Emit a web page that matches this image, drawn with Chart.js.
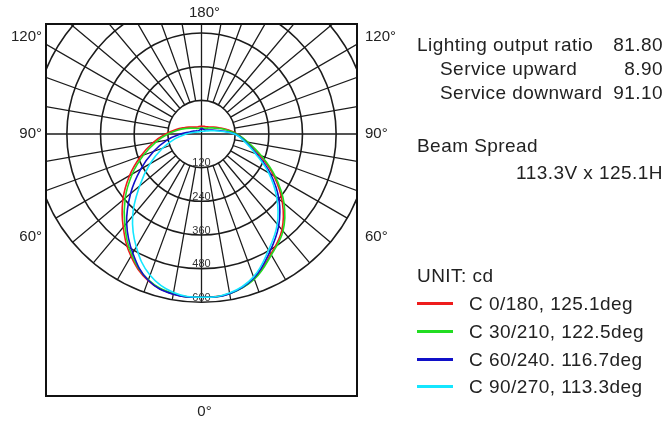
<!DOCTYPE html>
<html>
<head>
<meta charset="utf-8">
<script src="https://cdn.jsdelivr.net/npm/chart.js@4.4.1/dist/chart.umd.min.js"></script>
<style>
    html, body { margin: 0; padding: 0; background: #fff; }
    #wrap { position: relative; width: 667px; height: 421px; overflow: hidden; font-family: "Liberation Sans", Arial, sans-serif; color: #222; }
    #chartBox { position: absolute; left: 0; top: 0; width: 667px; height: 421px; }
    .txt { position: absolute; font-size: 19px; letter-spacing: 0.45px; line-height: 24px; white-space: nowrap; }
    .row { position: absolute; display: flex; justify-content: space-between; font-size: 19px; letter-spacing: 0.45px; line-height: 24px; white-space: nowrap; }
    .key { position: absolute; left: 417px; width: 36px; height: 3px; }
</style>
</head>
<body>
<div id="wrap">
    <div id="chartBox"><canvas id="photometricChart"></canvas></div>

    <div class="row" style="left:417px; width:246px; top:33px;"><span>Lighting output ratio</span><span>81.80</span></div>
    <div class="row" style="left:440px; width:223px; top:57px;"><span>Service upward</span><span>8.90</span></div>
    <div class="row" style="left:440px; width:223px; top:81px;"><span>Service downward</span><span>91.10</span></div>

    <div class="txt" style="left:417px; top:134px;">Beam Spread</div>
    <div class="txt" style="right:4px; top:161px;">113.3V x 125.1H</div>

    <div class="txt" style="left:417px; top:264px;">UNIT: cd</div>
    <div id="legend"></div>
</div>

<script>
// vertical angles (gamma), 0 = straight down
const gammaAngles = [0, 10, 20, 30, 40, 50, 60, 70, 80, 90, 100, 110, 120, 130, 140, 150, 160, 170, 180];

// luminous intensity in cd
const c0   = [582, 577, 549, 494, 446, 376, 298, 221, 165, 127, 92, 66, 50, 39, 33, 30, 29, 28, 28];
const c180 = [582, 579, 556, 503, 434, 366, 296, 230, 175, 128, 92, 66, 49, 38, 32, 29, 28, 28, 28];
const c30  = [582, 578, 551, 498, 452, 384, 304, 227, 168, 126, 88, 60, 44, 33, 27, 24, 22, 22, 22];
const c210 = [582, 578, 553, 497, 425, 355, 285, 220, 165, 120, 84, 58, 42, 32, 26, 23, 22, 22, 22];
const c60  = [582, 578, 546, 486, 428, 360, 284, 210, 160, 120, 68, 40, 28, 22, 19, 18, 18, 19, 20];
const c240 = [582, 580, 555, 490, 415, 330, 250, 182, 125, 75, 42, 30, 22, 17, 15, 15, 16, 18, 20];
const c90  = [582, 576, 542, 478, 420, 350, 276, 205, 156, 118, 62, 34, 22, 16, 13, 11, 10, 10, 10];
const c270 = [582, 574, 536, 465, 382, 288, 212, 148, 95, 55, 32, 20, 15, 12, 11, 10, 10, 10, 10];

const planeLabels = ['C 0/180, 125.1deg', 'C 30/210, 122.5deg', 'C 60/240. 116.7deg', 'C 90/270, 113.3deg'];
const planeColors = ['#ee1c1c', '#22dd22', '#1010c8', '#14e6ff'];

const ringValues = [120, 240, 360, 480, 600];

const angleLabelsLeft = ['120°', '90°', '60°'];
const angleLabelsRight = ['120°', '90°', '60°'];

function toPoints(rightSide, leftSide) {
    const points = [];
    // right half from the top down, then left half back up
    for (let i = gammaAngles.length - 1; i >= 0; i--) {
        const a = gammaAngles[i] * Math.PI / 180;
        points.push({ x: rightSide[i] * Math.sin(a), y: -rightSide[i] * Math.cos(a) });
    }
    for (let i = 1; i < gammaAngles.length; i++) {
        const a = gammaAngles[i] * Math.PI / 180;
        points.push({ x: -leftSide[i] * Math.sin(a), y: -leftSide[i] * Math.cos(a) });
    }
    return points;
}

const polarGrid = {
    id: 'polarGrid',
    beforeDatasetsDraw(chart) {
        const { ctx, chartArea, scales: { x, y } } = chart;
        const cx = x.getPixelForValue(0);
        const cy = y.getPixelForValue(0);
        const rad = v => x.getPixelForValue(v) - cx;
        const outer = rad(ringValues[ringValues.length - 1]);
        const inner = rad(ringValues[0]);

        ctx.save();
        ctx.beginPath();
        ctx.rect(chartArea.left, chartArea.top, chartArea.right - chartArea.left, chartArea.bottom - chartArea.top);
        ctx.clip();

        ctx.strokeStyle = '#1c1c1c';
        ctx.lineWidth = 1.6;
        ringValues.forEach(v => {
            ctx.beginPath();
            ctx.arc(cx, cy, rad(v), 0, Math.PI * 2);
            ctx.stroke();
        });

        ctx.lineWidth = 1.3;
        ctx.beginPath();
        for (let g = 10; g < 180; g += 10) {
            if (g === 90) continue;
            const a = g * Math.PI / 180;
            const r1 = g < 90 ? outer : 1000;
            [1, -1].forEach(side => {
                const dx = side * Math.sin(a);
                const dy = Math.cos(a);
                ctx.moveTo(cx + dx * inner, cy + dy * inner);
                ctx.lineTo(cx + dx * r1, cy + dy * r1);
            });
        }
        ctx.moveTo(chartArea.left, cy);
        ctx.lineTo(chartArea.right, cy);
        ctx.moveTo(cx, chartArea.top);
        ctx.lineTo(cx, cy + outer);
        ctx.stroke();

        ctx.fillStyle = '#333';
        ctx.font = '11px "Liberation Sans", Arial, sans-serif';
        ctx.textAlign = 'center';
        ctx.textBaseline = 'bottom';
        ringValues.forEach(v => {
            ctx.fillText(String(v), cx, cy + rad(v) + 1);
        });
        ctx.restore();
    },
    afterDatasetsDraw(chart) {
        const { ctx, chartArea, scales: { x, y } } = chart;
        const cx = x.getPixelForValue(0);
        const cy = y.getPixelForValue(0);

        ctx.save();
        ctx.strokeStyle = '#111';
        ctx.lineWidth = 2;
        ctx.strokeRect(chartArea.left, chartArea.top, chartArea.right - chartArea.left, chartArea.bottom - chartArea.top);

        ctx.fillStyle = '#222';
        ctx.font = '15px "Liberation Sans", Arial, sans-serif';
        ctx.textBaseline = 'middle';
        ctx.textAlign = 'center';
        ctx.fillText('180°', cx + 3, chartArea.top - 11);
        ctx.fillText('0°', cx + 3, chartArea.bottom + 16);

        const rowY = [chartArea.top + 13, cy, cy + 103];
        ctx.textAlign = 'right';
        angleLabelsLeft.forEach((t, i) => ctx.fillText(t, chartArea.left - 4, rowY[i]));
        ctx.textAlign = 'left';
        angleLabelsRight.forEach((t, i) => ctx.fillText(t, chartArea.right + 8, rowY[i]));
        ctx.restore();
    }
};

const pairs = [[c0, c180], [c30, c210], [c60, c240], [c90, c270]];

const datasets = pairs.map((p, i) => ({
    label: planeLabels[i],
    data: toPoints(p[0], p[1]),
    showLine: true,
    borderColor: planeColors[i],
    borderWidth: 1.6,
    pointRadius: 0,
    tension: 0.4,
    fill: false,
    order: pairs.length - i,
}));

// scale: 600 cd spans about 168 px from the centre
const pxPerCd = 168.3 / 600;

new Chart(document.getElementById('photometricChart'), {
    type: 'scatter',
    data: { datasets },
    options: {
        responsive: true,
        maintainAspectRatio: false,
        animation: false,
        layout: { padding: { left: 46, right: 310, top: 24, bottom: 25 } },
        plugins: {
            legend: { display: false },
            tooltip: { enabled: false },
        },
        scales: {
            x: { display: false, min: -155.5 / pxPerCd, max: 155.5 / pxPerCd },
            y: { display: false, min: -262 / pxPerCd, max: 110 / pxPerCd },
        },
    },
    plugins: [polarGrid],
});

const legendEl = document.getElementById('legend');
planeLabels.forEach((label, i) => {
    const top = 292 + i * 27.8;
    const key = document.createElement('div');
    key.className = 'key';
    key.style.top = (top + 10) + 'px';
    key.style.background = planeColors[i];
    legendEl.appendChild(key);

    const t = document.createElement('div');
    t.className = 'txt';
    t.style.left = '469px';
    t.style.top = top + 'px';
    t.textContent = label;
    legendEl.appendChild(t);
});
</script>
</body>
</html>
